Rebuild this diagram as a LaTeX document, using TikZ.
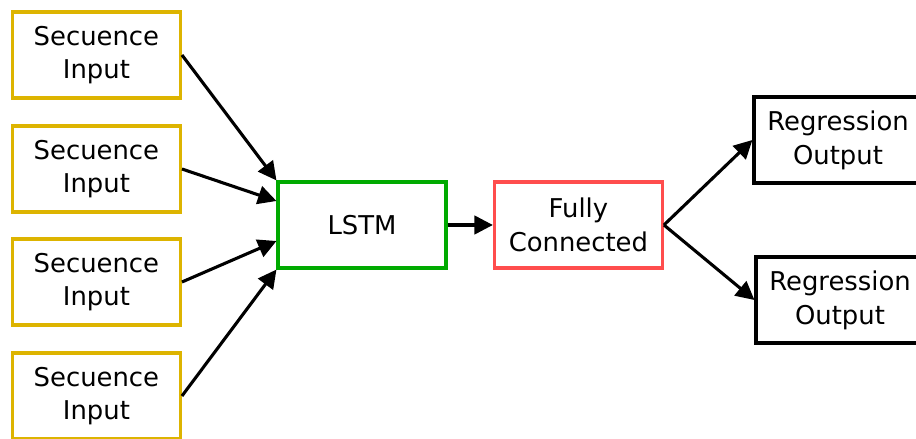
\documentclass[tikz,border=0pt]{standalone}
\usepackage{fontspec}
\setmainfont{DejaVu Sans}
\usetikzlibrary{arrows.meta,positioning,calc}
\definecolor{gold}{HTML}{DDB400}
\definecolor{leaf}{HTML}{00AA00}
\definecolor{coral}{HTML}{FF4D4D}

\begin{document}
\begin{tikzpicture}[font=\fontsize{18.4}{24}\selectfont,
  blk/.style={draw,fill=white,line width=2.2pt,minimum width=4.2cm,minimum height=2.15cm,align=center,inner sep=0pt},
  inp/.style={blk,draw=gold},
  lstm/.style={blk,draw=leaf},
  fc/.style={blk,draw=coral},
  reg/.style={blk,draw=black},
  a/.style={-{Triangle[length=4.6mm,width=4.6mm]},line width=2.2pt,black}]
\useasboundingbox (0,0) rectangle (22.9,10.975);
\node[inp]  (in1) at (2.41,9.6)   {Secuence\\Input};
\node[inp]  (in2) at (2.41,6.75)  {Secuence\\Input};
\node[inp]  (in3) at (2.41,3.925) {Secuence\\Input};
\node[inp]  (in4) at (2.41,1.075) {Secuence\\Input};
\node[lstm] (lstm) at (9.05,5.35)  {LSTM};
\node[fc]   (fc)   at (14.46,5.35) {Fully\\Connected};
\node[reg]  (out1) at (20.95,7.475) {Regression\\Output};
\node[reg]  (out2) at (21.0,3.475)  {Regression\\Output};
\draw[a] (in1.east) -- (lstm.north west);
\draw[a] (in2.east) -- ([yshift=0.6cm]lstm.west);
\draw[a] (in3.east) -- ([yshift=-0.4cm]lstm.west);
\draw[a] (in4.east) -- (lstm.south west);
\draw[a] (lstm) -- (fc);
\draw[a] (fc.east) -- (out1.west);
\draw[a] (fc.east) -- (out2.west);
\end{tikzpicture}
\end{document}
